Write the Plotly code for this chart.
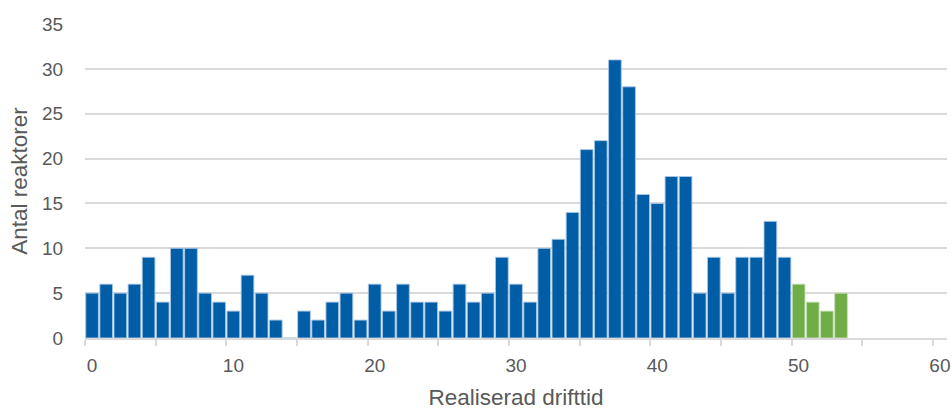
import plotly.graph_objects as go

# Data
blue_x = list(range(0, 50))
blue_y = [5, 6, 5, 6, 9, 4, 10, 10, 5, 4,
          3, 7, 5, 2, 0, 3, 2, 4, 5, 2,
          6, 3, 6, 4, 4, 3, 6, 4, 5, 9,
          6, 4, 10, 11, 14, 21, 22, 31, 28, 16,
          15, 18, 18, 5, 9, 5, 9, 9, 13, 9]
green_x = [50, 51, 52, 53]
green_y = [6, 4, 3, 5]

x_tickvals = [0, 10, 20, 30, 40, 50, 60]
y_tickvals = [0, 5, 10, 15, 20, 25, 30, 35]

BLUE = "#005DA6"
GREEN = "#70AD47"
GRAY_TXT = "#595959"
GRID = "#D9D9D9"
FONT = "Liberation Sans"

fig = go.Figure()
fig.add_trace(go.Bar(x=blue_x, y=blue_y,
                     marker=dict(color=BLUE, line=dict(color="rgba(170,200,230,0.9)", width=1)),
                     width=0.9, showlegend=False))
fig.add_trace(go.Bar(x=green_x, y=green_y,
                     marker=dict(color=GREEN, line=dict(color="rgba(200,225,190,0.9)", width=1)),
                     width=0.9, showlegend=False))

fig.update_layout(
    width=952, height=410,
    margin=dict(l=85, r=5, t=24, b=72, autoexpand=False),
    plot_bgcolor="white", paper_bgcolor="white",
    font=dict(family=FONT, color=GRAY_TXT, size=19),
    xaxis=dict(
        range=[-0.5, 60.5],
        tickvals=x_tickvals,
        ticktext=[str(v) for v in x_tickvals],
        ticks="",
        ticklabelstandoff=9,
        showgrid=False,
        showline=True, linecolor=GRID, linewidth=2,
        zeroline=False,
        automargin=False,
        tickfont=dict(size=19, color=GRAY_TXT),
        minor=dict(ticks="outside", tick0=-0.5, dtick=5, ticklen=6,
                   tickcolor=GRID, tickwidth=2, showgrid=False),
        title=dict(text="Realiserad drifttid", font=dict(size=22.5, color=GRAY_TXT), standoff=17),
    ),
    yaxis=dict(
        range=[0, 35],
        tickvals=y_tickvals,
        showgrid=True, gridcolor=GRID, gridwidth=1.5,
        zeroline=False,
        showline=False,
        automargin=False,
        ticks="outside", ticklen=17, tickcolor="rgba(0,0,0,0)",
        tickfont=dict(size=19, color=GRAY_TXT),
        title=dict(text="Antal reaktorer", font=dict(size=22.5, color=GRAY_TXT), standoff=8),
    ),
)

fig.write_html("out.html", config={"displayModeBar": False},
               post_script="document.body.style.margin='0';")
